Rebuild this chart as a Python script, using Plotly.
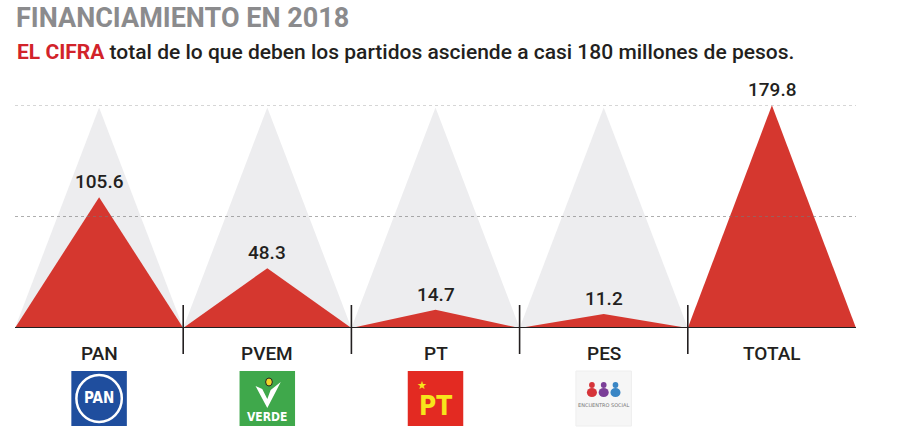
import plotly.graph_objects as go

categories = ["PAN", "PVEM", "PT", "PES", "TOTAL"]
values = [105.6, 48.3, 14.7, 11.2, 179.8]
value_labels = ["105.6", "48.3", "14.7", "11.2", "179.8"]
background_height = 178
grid_values = [90, 180]

RED = "#d5372f"
GRAY_TRI = "#ededef"
DARK = "#231f20"
FONT = "Roboto"

fig = go.Figure()

# background gray triangles
for i, c in enumerate(categories[:-1]):
    fig.add_trace(go.Scatter(
        x=[i - 0.5, i, i + 0.5, i - 0.5], y=[0, background_height, 0, 0],
        mode="lines", fill="toself", fillcolor=GRAY_TRI,
        line=dict(width=0, color=GRAY_TRI), hoverinfo="skip", showlegend=False))

# red triangles
for i, (c, v) in enumerate(zip(categories, values)):
    fig.add_trace(go.Scatter(
        x=[i - 0.5, i, i + 0.5, i - 0.5], y=[0, v, 0, 0],
        mode="lines", fill="toself", fillcolor=RED,
        line=dict(width=0, color=RED), name=c, showlegend=False))

shapes = []
# dotted gridlines above traces
for g in grid_values:
    shapes.append(dict(type="line", xref="x", yref="y", x0=-0.5, x1=len(categories) - 0.5,
                       y0=g, y1=g, layer="above",
                       line=dict(color="rgba(120,120,120,0.6)", width=1, dash="dot")))
# baseline
shapes.append(dict(type="line", xref="x", yref="y", x0=-0.5, x1=len(categories) - 0.5,
                   y0=0, y1=0, layer="above", line=dict(color=DARK, width=2)))

def pshape(**kw):
    d = dict(xref="x", yref="paper", ysizemode="pixel", yanchor=0, layer="above")
    d.update(kw)
    return d

# separators
for i in range(len(categories) - 1):
    shapes.append(pshape(type="line", x0=i + 0.5, x1=i + 0.5, y0=23, y1=-26,
                         line=dict(color=DARK, width=1.6)))

annotations = []
# value labels
for i, (v, t) in enumerate(zip(values, value_labels)):
    annotations.append(dict(x=i, y=v, xref="x", yref="y", text=t, showarrow=False,
                            yanchor="bottom", yshift=2,
                            font=dict(family=FONT, size=19, color=DARK, weight=500)))
# category labels
for i, c in enumerate(categories):
    annotations.append(dict(x=i, y=0, xref="x", yref="y", text=c, showarrow=False,
                            yanchor="middle", yshift=-25,
                            font=dict(family=FONT, size=19, color=DARK, weight=500)))

# ---- logos (approximations) ----
def box(i, color, line=None):
    return pshape(type="rect", x0=i - 0.165, x1=i + 0.165, y0=-43, y1=-98, fillcolor=color,
                  line=dict(width=1 if line else 0, color=line or color))

# PAN
shapes.append(box(0, "#1f4e9e"))
shapes.append(pshape(type="circle", x0=-0.135, x1=0.135, y0=-47, y1=-94,
                     line=dict(color="white", width=2.5)))
annotations.append(dict(x=0, y=0, xref="x", yref="y", yshift=-70, text="<b>PAN</b>",
                        showarrow=False, font=dict(family="DejaVu Sans Condensed", size=15, color="white")))
# PVEM
shapes.append(box(1, "#3fa84b"))
shapes.append(pshape(type="path",
                     path="M 0.93,-58 L 1.0,-80 L 1.08,-54 L 1.02,-62 L 1.0,-71 L 0.97,-61 Z",
                     fillcolor="white", line=dict(width=0)))
shapes.append(pshape(type="circle", x0=0.99, x1=1.03, y0=-50, y1=-58, fillcolor="#f2d52a",
                     line=dict(width=1, color="#222")))
annotations.append(dict(x=1, y=0, xref="x", yref="y", yshift=-89, text="<b>VERDE</b>",
                        showarrow=False, font=dict(family="DejaVu Sans Condensed", size=12, color="white")))
# PT
shapes.append(box(2, "#e32a22"))
annotations.append(dict(x=2, y=0, xref="x", yref="y", yshift=-78, text="<b>PT</b>",
                        showarrow=False, font=dict(family="DejaVu Sans Condensed", size=26, color="#f7e51b")))
annotations.append(dict(x=1.92, y=0, xref="x", yref="y", yshift=-57, text="★",
                        showarrow=False, font=dict(family="DejaVu Sans", size=11, color="#f7e51b")))
# PES
shapes.append(box(3, "#f6f6f6", line="#eeeeee"))
for dx, col in [(-0.07, "#d6343a"), (0.0, "#7b3f98"), (0.07, "#3a86c5")]:
    shapes.append(pshape(type="circle", x0=3 + dx - 0.03, x1=3 + dx + 0.03, y0=-60, y1=-69,
                         fillcolor=col, line=dict(width=0)))
    shapes.append(pshape(type="circle", x0=3 + dx - 0.017, x1=3 + dx + 0.017, y0=-54, y1=-60,
                         fillcolor=col, line=dict(width=0)))
annotations.append(dict(x=3, y=0, xref="x", yref="y", yshift=-77, text="ENCUENTRO SOCIAL",
                        showarrow=False, font=dict(family="DejaVu Sans", size=5, color="#777")))

# title & subtitle
annotations.append(dict(x=0, y=1, xref="paper", yref="paper", xanchor="left", yanchor="middle",
                        yshift=87, borderpad=0, text="<b>FINANCIAMIENTO EN 2018</b>", showarrow=False,
                        font=dict(family=FONT, size=27, color="#8b8b8d")))
annotations.append(dict(x=0, y=1, xref="paper", yref="paper", xanchor="left", yanchor="middle",
                        yshift=53, showarrow=False,
                        text="<span style='color:#d2232a'><b>EL CIFRA</b></span> total de lo que deben los partidos asciende a casi 180 millones de pesos.",
                        font=dict(family=FONT, size=21, color=DARK, weight=500)))

fig.update_layout(
    width=900, height=439,
    margin=dict(l=15, r=44, t=105, b=111),
    paper_bgcolor="white", plot_bgcolor="white",
    xaxis=dict(range=[-0.5, len(categories) - 0.5], visible=False, fixedrange=True),
    yaxis=dict(range=[0, 180], visible=False, fixedrange=True),
    shapes=shapes, annotations=annotations, showlegend=False,
)
for tr in fig.data:
    tr.update(cliponaxis=False)

fig.write_html("out.html", config=dict(displayModeBar=False),
               post_script="document.body.style.margin='0';")
